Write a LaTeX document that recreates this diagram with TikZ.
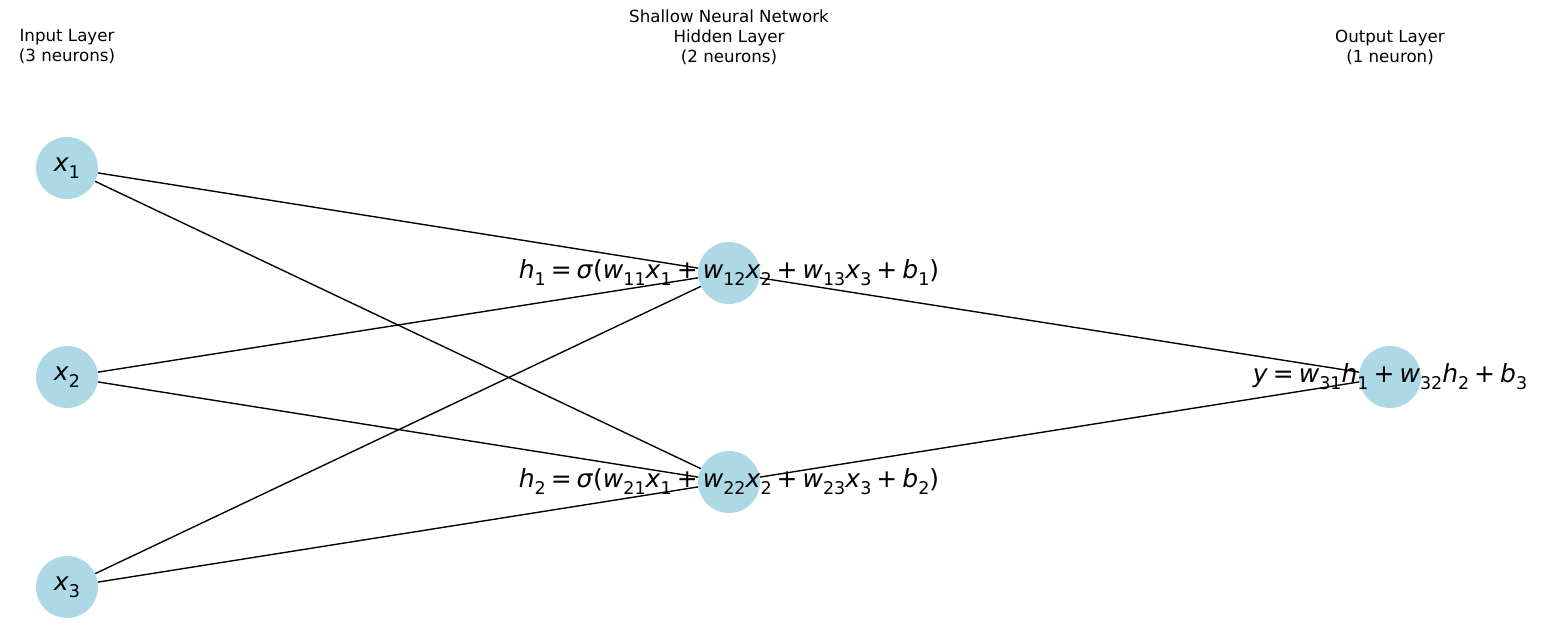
\documentclass[tikz,border=0pt]{standalone}
\usepackage{fontspec}
\setmainfont{DejaVu Sans}
\definecolor{nodeblue}{HTML}{ADD8E6}
\newcommand{\vr}[1]{\textit{#1}}
\newcommand{\sbs}[1]{\raisebox{-0.28em}{\fontsize{12.6}{12.6}\selectfont #1}}
\newcommand{\op}[1]{\hspace{0.2em}#1\hspace{0.2em}}
\tikzset{
  neuron/.style={circle, fill=nodeblue, minimum size=44.6pt, inner sep=0pt},
  eqlabel/.style={font=\fontsize{18}{18}\selectfont, inner sep=0pt},
  layertitle/.style={font=\fontsize{12}{14.4}\selectfont, align=center, inner sep=0pt},
  edge/.style={line width=1pt, black}
}
\begin{document}
\begin{tikzpicture}[x=0.72pt, y=-0.72pt]
  \useasboundingbox (0,0) rectangle (1546,633);
  % layer titles
  \node[layertitle] (tin) at (67,47) {Input Layer\\(3 neurons)};
  \node[layertitle] (thid) at (729,37) {Shallow Neural Network\\Hidden Layer\\(2 neurons)};
  \node[layertitle] (tout) at (1390,47) {Output Layer\\(1 neuron)};
  % neurons
  \node[neuron] (x1) at (67,168) {};
  \node[neuron] (x2) at (67,377) {};
  \node[neuron] (x3) at (67,587) {};
  \node[neuron] (h1) at (729,273) {};
  \node[neuron] (h2) at (729,482) {};
  \node[neuron] (y) at (1390,377) {};
  % connections
  \foreach \i in {x1,x2,x3}
    \foreach \j in {h1,h2}
      \draw[edge] (\i) -- (\j);
  \draw[edge] (h1) -- (y);
  \draw[edge] (h2) -- (y);
  % labels
  \node[eqlabel] (lx1) at (x1) {\vr{x}\sbs{1}};
  \node[eqlabel] (lx2) at (x2) {\vr{x}\sbs{2}};
  \node[eqlabel] (lx3) at (x3) {\vr{x}\sbs{3}};
  \node[eqlabel] (lh1) at (h1) {\vr{h}\sbs{1}\op{=}\vr{σ}(\vr{w}\sbs{11}\vr{x}\sbs{1}\op{+}\vr{w}\sbs{12}\vr{x}\sbs{2}\op{+}\vr{w}\sbs{13}\vr{x}\sbs{3}\op{+}\vr{b}\sbs{1})};
  \node[eqlabel] (lh2) at (h2) {\vr{h}\sbs{2}\op{=}\vr{σ}(\vr{w}\sbs{21}\vr{x}\sbs{1}\op{+}\vr{w}\sbs{22}\vr{x}\sbs{2}\op{+}\vr{w}\sbs{23}\vr{x}\sbs{3}\op{+}\vr{b}\sbs{2})};
  \node[eqlabel] (ly) at (y) {\vr{y}\op{=}\vr{w}\sbs{31}\vr{h}\sbs{1}\op{+}\vr{w}\sbs{32}\vr{h}\sbs{2}\op{+}\vr{b}\sbs{3}};
\end{tikzpicture}
\end{document}
